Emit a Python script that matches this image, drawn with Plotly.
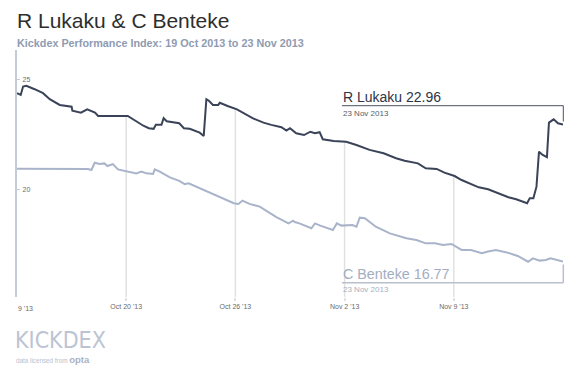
import numpy as np
import plotly.graph_objects as go

# ---- data (day offset from 19 Oct 2013 00:00, Kickdex value) ----
lukaku_day = [0, 0.24, 0.39, 0.6, 1.13, 1.67, 2.1, 2.74, 3.5, 3.55, 4.1, 4.5, 5.0, 5.2, 7.1,
              8.1, 8.45, 8.76, 8.9, 9.26, 9.4, 9.6, 10.4, 10.7, 11.07, 11.71, 11.97, 12.14,
              12.3, 12.56, 12.9, 13.0, 13.5, 13.95, 14.1, 15.1, 15.8, 16.3, 16.95, 17.27,
              17.5, 17.9, 18.4, 18.8, 19.1, 19.4, 19.6, 20.3, 21.1, 21.76, 22.6, 23.5, 24.3,
              24.85, 25.7, 26.2, 26.9, 27.4, 28.05, 28.5, 29.0, 29.6, 30.2, 30.7, 31.5, 32.0,
              32.7, 32.87, 33.1, 33.3, 33.46, 33.7, 33.97, 34.1, 34.4, 34.68, 35.0]
lukaku_val = [24.37, 24.29, 24.67, 24.70, 24.55, 24.37, 24.10, 23.84, 23.76, 23.58, 23.49, 23.64,
              23.49, 23.34, 23.34, 22.90, 22.79, 22.76, 22.94, 22.94, 23.24, 23.10, 23.01,
              22.79, 22.76, 22.59, 22.44, 24.10, 24.03, 23.84, 23.84, 23.94, 23.79, 23.66,
              23.64, 23.24, 23.04, 22.94, 22.83, 22.68, 22.79, 22.56, 22.48, 22.63, 22.56,
              22.61, 22.29, 22.21, 22.18, 22.03, 21.81, 21.66, 21.43, 21.32, 21.20, 20.98,
              20.95, 20.78, 20.63, 20.45, 20.30, 20.12, 20.03, 19.88, 19.67, 19.58, 19.40,
              19.63, 19.63, 20.15, 21.73, 21.58, 21.48, 23.04, 23.19, 23.01, 22.96]

benteke_day = [0, 4.34, 4.55, 4.77, 4.98, 5.3, 5.6, 5.8, 6.15, 6.47, 6.9, 7.2, 7.65, 7.97, 8.3,
               8.72, 8.83, 9.15, 9.8, 10.4, 10.75, 11.0, 11.7, 12.35, 12.9, 13.9, 14.2, 14.45,
               14.9, 15.56, 16.6, 17.4, 17.7, 17.8, 18.1, 18.87, 19.1, 19.4, 20.25, 20.5, 20.8,
               21.5, 21.76, 21.97, 22.3, 23.0, 23.9, 24.96, 25.6, 26.2, 26.8, 27.3, 27.85,
               28.5, 29.1, 29.8, 30.2, 30.7, 31.4, 32.1, 32.76, 33.07, 33.5, 33.9, 34.2, 34.6, 35.0]
benteke_val = [20.96, 20.96, 20.95, 20.90, 21.23, 21.17, 21.20, 21.08, 21.17, 20.93, 20.87, 20.83,
               20.75, 20.83, 20.75, 20.72, 20.93, 20.83, 20.57, 20.41, 20.26, 20.30, 20.08,
               19.88, 19.73, 19.40, 19.37, 19.52, 19.37, 19.25, 18.79, 18.49, 18.61, 18.55,
               18.49, 18.27, 18.49, 18.40, 18.19, 18.49, 18.39, 18.42, 18.34, 18.75, 18.72,
               18.34, 18.04, 17.82, 17.74, 17.59, 17.59, 17.52, 17.56, 17.29, 17.29, 17.14,
               17.22, 17.29, 17.18, 17.02, 16.76, 16.91, 16.81, 16.84, 16.91, 16.84, 16.77]

x_tick_pos = [0, 7, 14, 21, 28]
x_tick_text = ["9 '13", "Oct 20 '13", "Oct 26 '13", "Nov 2 '13", "Nov 9 '13"]
y_tick_vals = [20, 25]

title = "R Lukaku & C Benteke"
subtitle = "Kickdex Performance Index: 19 Oct 2013 to 23 Nov 2013"
lukaku_label = "R Lukaku 22.96"
benteke_label = "C Benteke 16.77"
end_date_label = "23 Nov 2013"

# ---- layout geometry ----
W, H = 580, 369
L, R, T, B = 17, 17, 50, 72
PW, PH = W - L - R, H - T - B
Y_RANGE = [15.167, 26.32]

def px(xp):
    return (xp - L) / PW

def py(yp):
    return (H - B - yp) / PH

FONT = "Liberation Sans, Arial, sans-serif"
DARK = "#3a4358"
LIGHT = "#a9b4ca"
TICK_COLOR = "#6b6b6b"

fig = go.Figure()
fig.add_trace(go.Scatter(x=benteke_day, y=benteke_val, mode="lines",
                         line=dict(color=LIGHT, width=2), hoverinfo="skip", name="C Benteke"))
fig.add_trace(go.Scatter(x=lukaku_day, y=lukaku_val, mode="lines",
                         line=dict(color=DARK, width=2), hoverinfo="skip", name="R Lukaku"))

shapes = []
# drop gridlines from the Lukaku line down to the bottom
for t in x_tick_pos[1:]:
    top = float(np.interp(t, lukaku_day, lukaku_val))
    shapes.append(dict(type="line", xref="x", yref="y", x0=t, x1=t, y0=Y_RANGE[0], y1=top,
                       line=dict(color="#e1e1e1", width=1.5), layer="below"))

# Lukaku end bracket
shapes.append(dict(type="line", xref="paper", yref="paper", x0=px(342), x1=px(563.3),
                   y0=py(105.7), y1=py(105.7), line=dict(color="#4d5260", width=1)))
shapes.append(dict(type="line", xref="paper", yref="paper", x0=px(563.3), x1=px(563.3),
                   y0=py(105.7), y1=py(121.5), line=dict(color="#4d5260", width=1)))
# Benteke end bracket
shapes.append(dict(type="line", xref="paper", yref="paper", x0=px(342), x1=px(563.3),
                   y0=py(282.7), y1=py(282.7), line=dict(color="#b9c0cd", width=1.5)))
shapes.append(dict(type="line", xref="paper", yref="paper", x0=px(563.3), x1=px(563.3),
                   y0=py(264.5), y1=py(282.7), line=dict(color="#b9c0cd", width=1.5)))

ann = []
def add_text(text, x, y, size, color, family=FONT, anchor="left"):
    ann.append(dict(text=text, xref="paper", yref="paper", x=px(x), y=py(y),
                    xanchor=anchor, yanchor="middle", showarrow=False,
                    font=dict(family=family, size=size, color=color)))

add_text(title, 14.5, 20.5, 21, "#2e2e2e")
add_text("<b>" + subtitle + "</b>", 14.5, 43, 10.8, "#8f9bb1")
add_text(lukaku_label, 340.5, 97, 14, "#2d3446")
add_text(end_date_label, 340.5, 113, 8, "#555b66")
add_text(benteke_label, 340.5, 273.5, 14.3, "#a3adc0")
add_text(end_date_label, 340.5, 289.5, 8, "#a7afbd")
add_text("KICKDEX", 12.5, 340, 23, "#bcc4d4",
         family="Liberation Sans Narrow, DejaVu Sans Condensed, Arial Narrow, sans-serif")
add_text("data licensed from <b><span style='font-size:9.5px;color:#aab3c4'>opta</span></b>",
         13.5, 359.5, 6.3, "#b9c0cc")
# first x tick label (clipped at the left edge in the original), drawn at the first tick
ann.append(dict(text=x_tick_text[0], xref="x", yref="paper", x=x_tick_pos[0], y=py(308),
                xanchor="left", yanchor="middle", xshift=-1, showarrow=False,
                font=dict(family=FONT, size=7, color=TICK_COLOR)))

fig.update_layout(
    width=W, height=H,
    margin=dict(l=L, r=R, t=T, b=B, pad=0, autoexpand=False),
    paper_bgcolor="white", plot_bgcolor="white",
    showlegend=False,
    shapes=shapes, annotations=ann,
    font=dict(family=FONT),
    xaxis=dict(range=[0, 35], tickmode="array", tickvals=x_tick_pos,
               ticktext=[""] + x_tick_text[1:],
               showgrid=False, zeroline=False, showline=False, automargin=False,
               ticks="outside", ticklen=3, tickwidth=1.5, tickcolor="#e1e1e1",
               tickfont=dict(size=7, color=TICK_COLOR, family=FONT)),
    yaxis=dict(range=Y_RANGE, tickmode="array", tickvals=y_tick_vals, automargin=False,
               showgrid=False, zeroline=False, showline=True, linecolor="#c3cbd9", linewidth=2,
               ticks="inside", ticklen=3, tickcolor="#c3cbd9", tickwidth=1,
               ticklabelposition="inside", ticklabelstandoff=1,
               tickfont=dict(size=7, color=TICK_COLOR, family=FONT)),
)

fig.write_html("out.html", config={"displayModeBar": False},
               post_script="document.body.style.margin='0px';")
